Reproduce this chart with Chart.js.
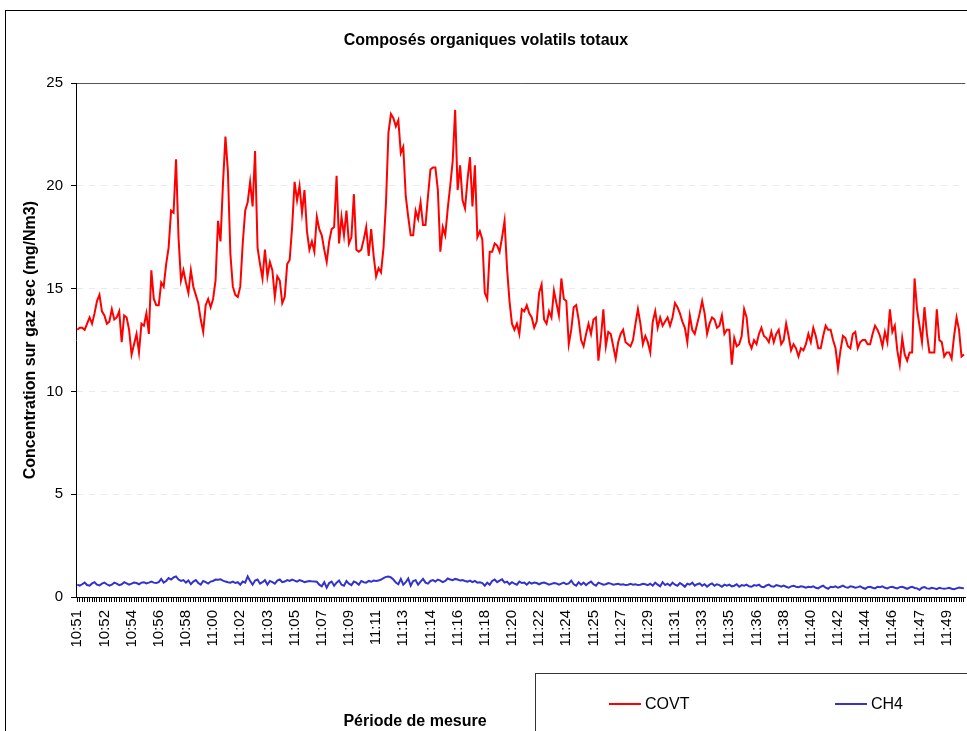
<!DOCTYPE html>
<html lang="fr">
<head>
<meta charset="utf-8">
<title>Composés organiques volatils totaux</title>
<script src="https://cdn.jsdelivr.net/npm/chart.js@4/dist/chart.umd.min.js"></script>
<style>
  html, body { margin: 0; padding: 0; background: #fff; overflow: hidden; }
  #zone { position: absolute; left: 0; top: 0; width: 990px; height: 731px; }
</style>
</head>
<body>
<div id="zone"><canvas id="grafico" width="990" height="731"></canvas></div>
<script>
// Étiquettes affichées sur l'axe des x (une toutes les 11 mesures, pas de 10 s)
const etiquettesTemps = ['10:51', '10:52', '10:54', '10:56', '10:58', '11:00', '11:02', '11:03', '11:05', '11:07', '11:09',
    '11:11', '11:13', '11:14', '11:16', '11:18', '11:20', '11:22', '11:24', '11:25', '11:27', '11:29',
    '11:31', '11:33', '11:35', '11:36', '11:38', '11:40', '11:42', '11:44', '11:46', '11:47', '11:49'];

// COVT (mg/Nm3)
const covt = [
    13.0, 13.1, 13.1, 13.0, 13.3, 13.6, 13.3, 13.8, 14.4, 14.7,
    13.9, 13.7, 13.3, 13.4, 14.0, 13.5, 13.6, 13.9, 12.4, 13.7,
    13.6, 13.0, 11.8, 12.3, 12.8, 11.9, 13.3, 13.2, 13.8, 12.8,
    15.9, 14.5, 14.2, 14.2, 15.3, 15.1, 16.2, 17.0, 18.8, 18.7,
    21.3, 17.5, 15.4, 15.9, 15.3, 14.8, 15.9, 15.1, 14.7, 14.3,
    13.5, 12.9, 14.2, 14.5, 14.1, 14.5, 15.4, 18.3, 17.3, 20.1,
    22.4, 20.7, 16.7, 15.1, 14.7, 14.6, 15.1, 17.2, 18.8, 19.2,
    20.2, 19.0, 21.7, 17.0, 16.2, 15.5, 16.9, 15.6, 16.3, 15.9,
    14.6, 15.6, 15.4, 14.3, 14.6, 16.2, 16.4, 18.0, 20.2, 19.3,
    20.0, 18.7, 19.8, 17.8, 16.9, 17.3, 16.8, 18.5, 17.9, 17.6,
    16.9, 16.3, 17.3, 17.9, 18.0, 20.5, 17.2, 18.5, 17.6, 18.8,
    17.2, 17.5, 19.6, 16.9, 16.8, 16.9, 17.4, 18.0, 16.6, 17.9,
    16.6, 15.6, 16.0, 15.8, 17.0, 19.2, 22.6, 23.5, 23.3, 22.9,
    23.2, 21.6, 21.9, 19.5, 18.5, 17.6, 17.6, 18.8, 18.4, 19.2,
    18.1, 18.1, 19.5, 20.8, 20.9, 20.9, 19.8, 16.8, 18.0, 17.6,
    18.9, 20.0, 21.2, 23.7, 19.8, 21.0, 19.3, 18.9, 20.3, 21.4,
    19.0, 21.0, 17.5, 17.8, 17.4, 14.8, 14.5, 16.8, 16.8, 17.2,
    17.1, 16.8, 17.5, 18.3, 16.0, 14.4, 13.3, 13.0, 13.3, 12.8,
    14.0, 13.9, 14.2, 13.8, 13.6, 13.1, 13.4, 14.8, 15.2, 13.5,
    13.3, 13.9, 13.6, 14.9, 14.3, 13.7, 15.5, 14.5, 14.4, 12.3,
    13.0, 14.1, 14.2, 13.5, 12.5, 12.2, 12.8, 13.3, 12.8, 13.5,
    13.6, 11.5, 12.6, 14.0, 12.2, 12.9, 12.8, 12.2, 11.6, 12.4,
    12.8, 13.0, 12.4, 12.3, 12.2, 12.5, 13.3, 14.0, 13.3, 12.3,
    12.7, 12.4, 11.9, 13.4, 13.9, 13.1, 13.6, 13.2, 13.4, 13.6,
    13.2, 13.6, 14.3, 14.1, 13.8, 13.4, 13.1, 12.4, 13.7, 13.0,
    12.8, 13.3, 13.8, 14.4, 13.8, 12.8, 13.3, 13.6, 13.5, 13.1,
    13.2, 13.7, 12.8, 13.0, 13.0, 11.3, 12.6, 12.2, 12.3, 12.7,
    14.0, 13.6, 12.4, 12.1, 12.5, 12.3, 12.8, 13.1, 12.7, 12.6,
    12.4, 12.9, 12.4, 12.8, 13.0, 12.3, 12.5, 13.3, 12.7, 12.0,
    12.3, 12.1, 11.7, 12.1, 12.0, 12.3, 12.8, 12.4, 13.1, 12.7,
    12.1, 12.1, 12.7, 13.2, 13.0, 13.0, 12.5, 12.1, 11.1, 12.0,
    12.7, 12.6, 12.2, 12.1, 12.8, 12.9, 12.1, 12.4, 12.5, 12.5,
    12.3, 12.3, 12.8, 13.2, 13.0, 12.7, 12.2, 12.9, 12.4, 14.0,
    12.9, 13.2, 12.0, 11.3, 12.6, 11.8, 11.5, 11.9, 11.9, 15.5,
    14.0, 13.2, 12.4, 14.1, 12.8, 11.9, 11.9, 11.9, 14.0, 12.5,
    12.4, 11.7, 11.9, 11.9, 11.6, 12.7, 13.6, 13.0, 11.7, 11.8
];

// CH4 (mg/Nm3)
const ch4 = [
    0.60, 0.55, 0.62, 0.70, 0.58, 0.55, 0.66, 0.72, 0.60, 0.56, 0.65,
    0.70, 0.62, 0.55, 0.60, 0.70, 0.65, 0.58, 0.62, 0.72, 0.66, 0.60,
    0.65, 0.70, 0.68, 0.62, 0.70, 0.72, 0.66, 0.70, 0.75, 0.70, 0.68,
    0.72, 0.88, 0.70, 0.78, 0.92, 0.85, 0.95, 1.00, 0.85, 0.78, 0.82,
    0.70, 0.80, 0.62, 0.75, 0.82, 0.68, 0.60, 0.78, 0.72, 0.65, 0.75,
    0.78, 0.85, 0.84, 0.86, 0.80, 0.75, 0.72, 0.70, 0.75, 0.68, 0.72,
    0.60, 0.75, 0.70, 1.00, 0.78, 0.60, 0.80, 0.85, 0.65, 0.72, 0.82,
    0.60, 0.78, 0.72, 0.65, 0.80, 0.85, 0.72, 0.75, 0.82, 0.78, 0.85,
    0.80, 0.75, 0.82, 0.78, 0.72, 0.75, 0.78, 0.76, 0.75, 0.74, 0.60,
    0.52, 0.72, 0.45, 0.68, 0.75, 0.55, 0.70, 0.80, 0.60, 0.55, 0.78,
    0.65, 0.58, 0.75, 0.70, 0.60, 0.78, 0.72, 0.70, 0.78, 0.74, 0.80,
    0.78, 0.80, 0.85, 0.92, 0.98, 1.00, 0.95, 0.85, 0.70, 0.62, 0.88,
    0.60, 0.72, 0.90, 0.55, 0.78, 0.82, 0.60, 0.75, 0.88, 0.70, 0.65,
    0.78, 0.82, 0.75, 0.85, 0.80, 0.72, 0.78, 0.90, 0.85, 0.82, 0.88,
    0.85, 0.80, 0.82, 0.78, 0.75, 0.80, 0.72, 0.78, 0.70, 0.72, 0.68,
    0.55, 0.70, 0.60, 0.78, 0.85, 0.72, 0.80, 0.86, 0.70, 0.75, 0.62,
    0.72, 0.65, 0.60, 0.75, 0.68, 0.70, 0.60, 0.72, 0.65, 0.70, 0.68,
    0.62, 0.68, 0.70, 0.66, 0.60, 0.64, 0.68, 0.66, 0.60, 0.65, 0.70,
    0.62, 0.66, 0.80, 0.62, 0.55, 0.72, 0.60, 0.70, 0.58, 0.68, 0.75,
    0.62, 0.55, 0.70, 0.65, 0.60, 0.62, 0.68, 0.65, 0.60, 0.62, 0.64,
    0.60, 0.62, 0.58, 0.60, 0.64, 0.60, 0.62, 0.58, 0.60, 0.64, 0.62,
    0.58, 0.65, 0.55, 0.70, 0.60, 0.52, 0.72, 0.58, 0.65, 0.55, 0.70,
    0.60, 0.55, 0.68, 0.60, 0.50, 0.65, 0.60, 0.70, 0.55, 0.62, 0.66,
    0.55, 0.62, 0.50, 0.60, 0.66, 0.55, 0.62, 0.58, 0.50, 0.60, 0.55,
    0.60, 0.52, 0.55, 0.62, 0.50, 0.58, 0.55, 0.60, 0.52, 0.50, 0.58,
    0.55, 0.60, 0.50, 0.48, 0.56, 0.60, 0.52, 0.50, 0.58, 0.55, 0.50,
    0.55, 0.50, 0.45, 0.52, 0.55, 0.50, 0.48, 0.52, 0.50, 0.45, 0.50,
    0.48, 0.52, 0.45, 0.42, 0.50, 0.55, 0.45, 0.40, 0.50, 0.48, 0.52,
    0.45, 0.50, 0.55, 0.48, 0.45, 0.52, 0.50, 0.45, 0.48, 0.52, 0.45,
    0.40, 0.48, 0.50, 0.45, 0.42, 0.50, 0.48, 0.52, 0.45, 0.42, 0.48,
    0.50, 0.45, 0.42, 0.48, 0.50, 0.45, 0.40, 0.46, 0.50, 0.44, 0.42,
    0.35, 0.45, 0.48, 0.42, 0.40, 0.45, 0.42, 0.38, 0.45, 0.42, 0.40,
    0.42, 0.45, 0.40, 0.38, 0.42, 0.46, 0.44, 0.42
];

const titreGraphique = 'Composés organiques volatils totaux';
const titreAxeY = 'Concentration sur gaz sec (mg/Nm3)';
const titreAxeX = 'Période de mesure';

// Une catégorie par mesure, l'heure seulement toutes les 11 mesures
const categories = covt.map((v, i) => i % 11 === 0 ? (etiquettesTemps[i / 11] || '') : '');

const police = 'Arial, "Liberation Sans", sans-serif';

// Fond blanc, cadre extérieur, titre de l'axe x et légende encadrée
const decor = {
    id: 'decor',
    beforeDraw(chart) {
        const ctx = chart.ctx;
        ctx.save();
        ctx.fillStyle = '#fff';
        ctx.fillRect(0, 0, chart.width, chart.height);
        ctx.strokeStyle = '#000';
        ctx.lineWidth = 1;
        ctx.strokeRect(5.5, 10.5, chart.width, chart.height);
        ctx.restore();
    },
    afterDraw(chart) {
        const ctx = chart.ctx;
        ctx.save();
        ctx.fillStyle = '#000';
        ctx.font = 'bold 16px ' + police;
        ctx.textAlign = 'center';
        ctx.textBaseline = 'middle';
        ctx.fillText(titreAxeX, 415, 722);

        ctx.strokeStyle = '#333';
        ctx.lineWidth = 1;
        ctx.strokeRect(535.5, 673.5, 600, 120);

        const positions = [609, 835];
        ctx.font = '16px ' + police;
        ctx.textAlign = 'left';
        chart.data.datasets.forEach((ds, k) => {
            const x = positions[k];
            ctx.strokeStyle = ds.borderColor;
            ctx.lineWidth = 2;
            ctx.beginPath();
            ctx.moveTo(x, 704);
            ctx.lineTo(x + 32, 704);
            ctx.stroke();
            ctx.fillStyle = '#000';
            ctx.fillText(ds.label, x + 36, 705);
        });
        ctx.restore();
    }
};

const ctx = document.getElementById('grafico').getContext('2d');
const grafico = new Chart(ctx, {
    type: 'line',
    data: {
        labels: categories,
        datasets: [{
            label: 'COVT',
            data: covt,
            borderColor: '#ff0000',
            borderWidth: 2,
            pointRadius: 0,
            tension: 0,
            fill: false
        }, {
            label: 'CH4',
            data: ch4,
            borderColor: '#3333cc',
            borderWidth: 2,
            pointRadius: 0,
            tension: 0,
            fill: false
        }]
    },
    options: {
        responsive: false,
        animation: false,
        layout: { padding: { left: 0, right: 18, top: 0, bottom: 0 } },
        plugins: {
            legend: { display: false },
            tooltip: { enabled: false },
            title: {
                display: true,
                text: titreGraphique,
                color: '#000',
                font: { family: police, size: 16, weight: 'bold' },
                padding: { top: 31, bottom: 33 }
            }
        },
        scales: {
            x: {
                offset: true,
                afterFit(scale) { scale.height = 134; },
                grid: {
                    drawOnChartArea: false,
                    drawTicks: true,
                    tickLength: 5,
                    tickColor: '#000',
                    offset: false
                },
                border: { color: '#000', width: 1 },
                ticks: {
                    autoSkip: false,
                    minRotation: 90,
                    maxRotation: 90,
                    padding: 8,
                    color: '#000',
                    font: { family: police, size: 15 }
                }
            },
            y: {
                min: 0,
                max: 25,
                afterFit(scale) { scale.width = 76; },
                title: {
                    display: true,
                    text: titreAxeY,
                    color: '#000',
                    font: { family: police, size: 16, weight: 'bold' },
                    padding: { top: 21, bottom: 0 }
                },
                grid: {
                    color: (c) => c.tick && c.tick.value === 25 ? '#555' : '#e3ecf5',
                    tickColor: '#000',
                    tickLength: 5
                },
                border: {
                    color: '#000',
                    width: 1,
                    dash: (c) => c.tick && c.tick.value > 0 && c.tick.value < 25 ? [6, 6] : []
                },
                ticks: {
                    stepSize: 5,
                    padding: 8,
                    color: '#000',
                    font: { family: police, size: 15 }
                }
            }
        }
    },
    plugins: [decor]
});
</script>
</body>
</html>
